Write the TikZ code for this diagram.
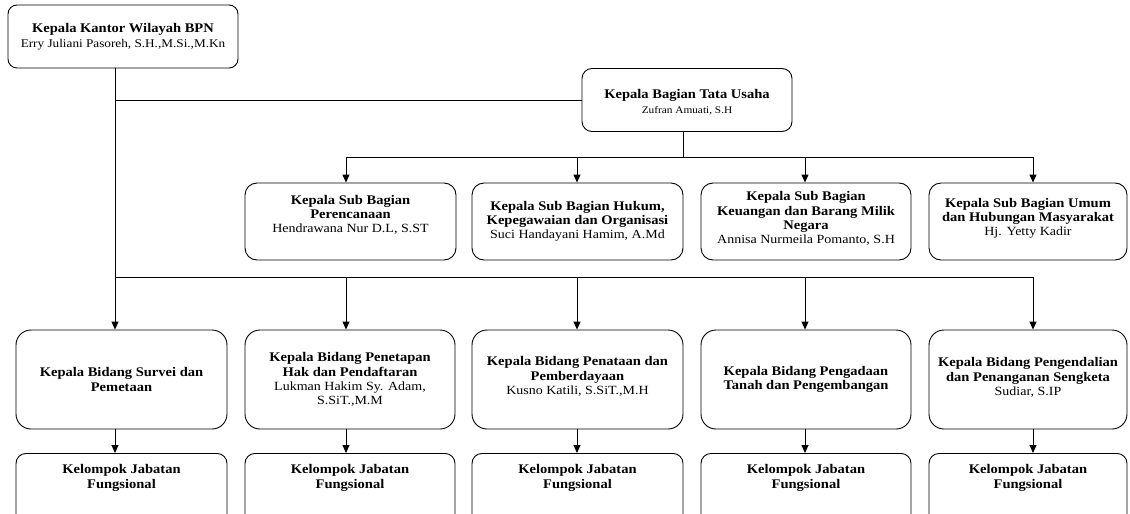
\documentclass[tikz,border=0pt]{standalone}
\usepackage{fontspec}
\usepackage{graphicx}
\setmainfont{Liberation Serif}
\usetikzlibrary{arrows.meta}
\newcommand{\bt}[1]{\scalebox{1.1}[1]{\bfseries #1}}
\newcommand{\rt}[2][12.5]{\scalebox{1.12}[1]{\fontsize{#1}{14}\selectfont #2}}
\begin{document}
\begin{tikzpicture}[x=1pt,y=-1pt,
  bx/.style={draw=black, line width=0.9pt, inner sep=0pt},
  tx/.style={align=center, inner sep=0pt, font=\fontsize{13.2}{14.2}\selectfont},
  ln/.style={draw=black, line width=0.9pt},
  arr/.style={ln, -{Triangle[width=7pt,length=8pt]}}]
\useasboundingbox (0,0) rectangle (1130,514);
% columns
\coordinate (X1) at (115,0);
\coordinate (X2) at (346,0);
\coordinate (X3) at (577,0);
\coordinate (X4) at (805,0);
\coordinate (X5) at (1033,0);
\coordinate (XT) at (683,0);
\coordinate (H1) at (0,157);
\coordinate (H2) at (0,277);
% top boxes
\node[bx, rounded corners=9pt, minimum width=230pt, minimum height=63pt] (kk) at (123,36.5) {};
\node[tx] at (kk.center) {\bt{Kepala Kantor Wilayah BPN}\\[1pt]\rt[11.8]{Erry Juliani Pasoreh, S.H.,M.Si.,M.Kn}};
\node[bx, rounded corners=10pt, minimum width=210pt, minimum height=63pt] (tu) at (687,100) {};
\node[tx] at ([yshift=-2pt]tu.center) {\bt{Kepala Bagian Tata Usaha}\\[1pt]\rt[10.1]{Zufran Amuati, S.H}};
% sub bagian
\node[bx, rounded corners=12pt, minimum width=211pt, minimum height=77pt] (sb1) at (350.5,221.5) {};
\node[tx] at ([yshift=6.5pt]sb1.center) {\bt{Kepala Sub Bagian}\\\bt{Perencanaan}\\\rt{Hendrawana Nur D.L, S.ST}};
\node[bx, rounded corners=12pt, minimum width=211pt, minimum height=77pt] (sb2) at (577.5,221.5) {};
\node[tx] at (sb2.center) {\bt{Kepala Sub Bagian Hukum,}\\\bt{Kepegawaian dan Organisasi}\\\rt{Suci Handayani Hamim, A.Md}};
\node[bx, rounded corners=12pt, minimum width=210pt, minimum height=77pt] (sb3) at (806,221.5) {};
\node[tx] at ([yshift=3pt]sb3.center) {\bt{Kepala Sub Bagian}\\\bt{Keuangan dan Barang Milik}\\\bt{Negara}\\\rt{Annisa Nurmeila Pomanto, S.H}};
\node[bx, rounded corners=12pt, minimum width=198pt, minimum height=77pt] (sb4) at (1028,221.5) {};
\node[tx] at ([yshift=3.5pt]sb4.center) {\bt{Kepala Sub Bagian Umum}\\\bt{dan Hubungan Masyarakat}\\\rt{Hj. Yetty Kadir}};
% bidang
\node[bx, rounded corners=15pt, minimum width=211pt, minimum height=99pt] (b1) at (121.5,379.5) {};
\node[tx] at (b1.center) {\bt{Kepala Bidang Survei dan}\\\bt{Pemetaan}};
\node[bx, rounded corners=15pt, minimum width=210pt, minimum height=99pt] (b2) at (350,379.5) {};
\node[tx] at (b2.center) {\bt{Kepala Bidang Penetapan}\\\bt{Hak dan Pendaftaran}\\\rt{Lukman Hakim Sy. Adam,}\\\rt{S.SiT.,M.M}};
\node[bx, rounded corners=15pt, minimum width=211pt, minimum height=99pt] (b3) at (577.5,379.5) {};
\node[tx] at ([yshift=3pt]b3.center) {\bt{Kepala Bidang Penataan dan}\\\bt{Pemberdayaan}\\\rt{Kusno Katili, S.SiT.,M.H}};
\node[bx, rounded corners=15pt, minimum width=210pt, minimum height=99pt] (b4) at (806,379.5) {};
\node[tx] at (b4.center) {\bt{Kepala Bidang Pengadaan}\\\bt{Tanah dan Pengembangan}};
\node[bx, rounded corners=15pt, minimum width=198pt, minimum height=99pt] (b5) at (1028,379.5) {};
\node[tx] at ([yshift=2pt]b5.center) {\bt{Kepala Bidang Pengendalian}\\\bt{dan Penanganan Sengketa}\\\rt{Sudiar, S.IP}};
% kelompok jabatan fungsional
\foreach \i/\cx/\w in {1/121.5/211, 2/350/210, 3/577.5/211, 4/806/210, 5/1028/198}{
  \node[bx, rounded corners=10pt, minimum width=\w pt, minimum height=75pt, anchor=north] (k\i) at (\cx,453) {};
  \node[tx] at ([yshift=-24.5pt]k\i.north) {\bt{Kelompok Jabatan}\\[1pt]\bt{Fungsional}};
}
% connectors
\draw[arr] (kk.south -| X1) -- (b1.north -| X1);
\draw[ln] (X1 |- tu.west) -- (tu.west);
\draw[ln] (tu.south -| XT) -- (XT |- H1);
\draw[ln] (X2 |- H1) -- (X5 |- H1);
\draw[arr] (X2 |- H1) -- (sb1.north -| X2);
\draw[arr] (X3 |- H1) -- (sb2.north -| X3);
\draw[arr] (X4 |- H1) -- (sb3.north -| X4);
\draw[arr] (X5 |- H1) -- (sb4.north -| X5);
\draw[ln] (X1 |- H2) -- (X5 |- H2);
\draw[arr] (X2 |- H2) -- (b2.north -| X2);
\draw[arr] (X3 |- H2) -- (b3.north -| X3);
\draw[arr] (X4 |- H2) -- (b4.north -| X4);
\draw[arr] (X5 |- H2) -- (b5.north -| X5);
\draw[arr] (b1.south -| X1) -- (k1.north -| X1);
\draw[arr] (b2.south -| X2) -- (k2.north -| X2);
\draw[arr] (b3.south -| X3) -- (k3.north -| X3);
\draw[arr] (b4.south -| X4) -- (k4.north -| X4);
\draw[arr] (b5.south -| X5) -- (k5.north -| X5);
\end{tikzpicture}
\end{document}
